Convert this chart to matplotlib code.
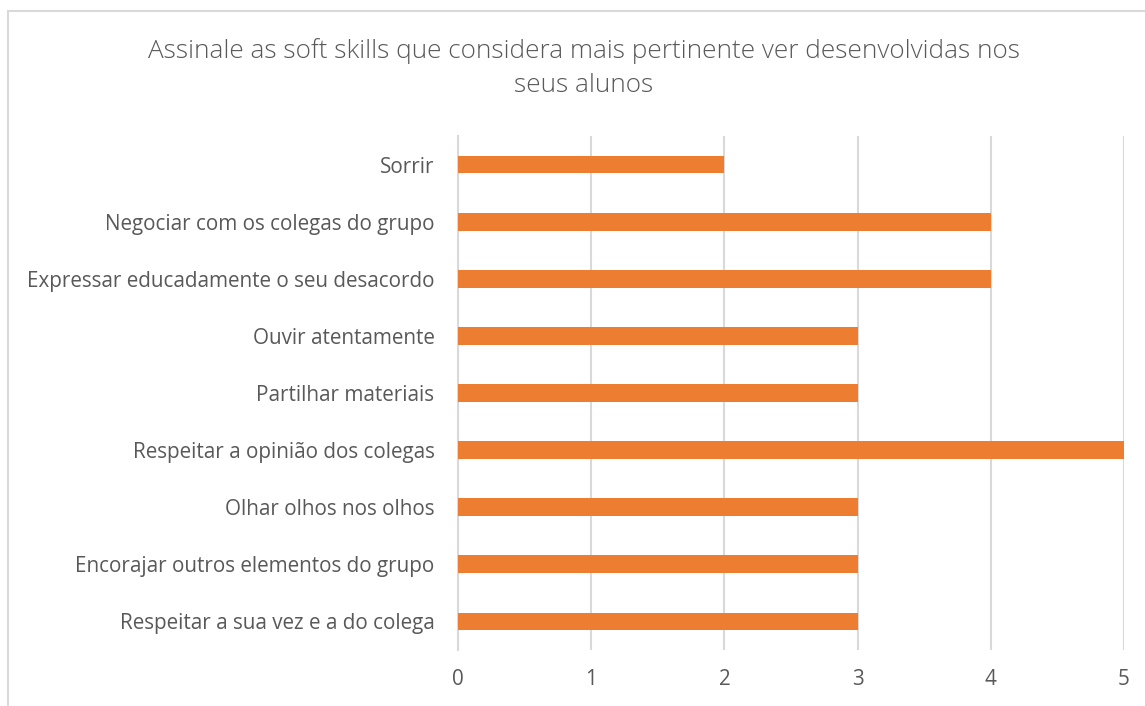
import matplotlib.pyplot as plt
from matplotlib.patches import Rectangle

skills = ["Sorrir", "Negociar com os colegas do grupo", "Expressar educadamente o seu desacordo",
          "Ouvir atentamente", "Partilhar materiais", "Respeitar a opinião dos colegas",
          "Olhar olhos nos olhos", "Encorajar outros elementos do grupo",
          "Respeitar a sua vez e a do colega"]
counts = [2, 4, 4, 3, 3, 5, 3, 3, 3]
xticks = [0, 1, 2, 3, 4, 5]

txt = "#595959"
grid = "#D9D9D9"
orange = "#ED7D31"
plt.rcParams['font.family'] = ['Open Sans', 'DejaVu Sans']

fig = plt.figure(figsize=(11.45, 7.06), dpi=100)
fig.patches.append(Rectangle((8 / 1145, -0.1), 1.2, (706 - 11) / 706 + 0.1, transform=fig.transFigure,
                             fill=False, edgecolor=grid, linewidth=1.5))
ax = fig.add_axes([458 / 1145, 56 / 706, 666 / 1145, 514 / 706])

ypos = list(range(len(skills)))[::-1]
ax.barh(ypos, counts, height=0.31, color=orange, zorder=3)
ax.set_xlim(0, 5)
ax.set_ylim(-0.5, len(skills) - 0.5)
ax.set_xticks(xticks)
ax.set_yticks(ypos)
ax.set_yticklabels(skills)
ax.tick_params(length=0, colors=txt, labelsize=14.9)
ax.tick_params(axis='y', pad=17)
ax.tick_params(axis='x', pad=14)
ax.xaxis.grid(True, color=grid, linewidth=1.5, zorder=0)
for s in ["top", "right", "bottom"]:
    ax.spines[s].set_visible(False)
ax.spines["left"].set_color(grid)
ax.spines["left"].set_linewidth(1.5)

fig.text(584 / 1145, 1 - 68 / 706, "Assinale as soft skills que considera mais pertinente ver desenvolvidas nos\nseus alunos",
         ha="center", va="center", fontsize=18.8, color=txt, fontweight="light", linespacing=1.5)

fig.savefig("out.png", dpi=100)
